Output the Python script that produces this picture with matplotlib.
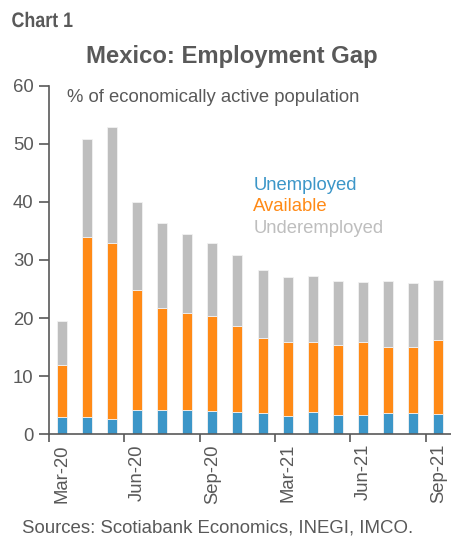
import matplotlib
matplotlib.use("Agg")
import matplotlib.pyplot as plt
import numpy as np
from matplotlib.textpath import TextPath
from matplotlib.patches import PathPatch
from matplotlib.font_manager import FontProperties
from matplotlib.transforms import Affine2D, IdentityTransform

plt.rcParams['font.family'] = ['Liberation Sans', 'DejaVu Sans']

# Stacked components, % of economically active population
tick_labels = ["Mar-20", "", "", "Jun-20", "", "", "Sep-20", "", "", "Mar-21",
               "", "", "Jun-21", "", "", "Sep-21"]
unemployed = [2.9, 3.0, 2.7, 4.2, 4.2, 4.2, 4.0, 3.8, 3.6, 3.2, 3.9, 3.3, 3.3, 3.7, 3.6, 3.5]
available = [9.0, 31.0, 30.2, 20.7, 17.6, 16.7, 16.4, 14.9, 13.0, 12.6, 11.9, 12.1, 12.5, 11.3, 11.4, 12.7]
underemployed = [7.6, 16.8, 20.0, 15.1, 14.5, 13.5, 12.5, 12.1, 11.7, 11.2, 11.5, 10.9, 10.4, 11.3, 11.1, 10.4]

c_unemp = "#3C96C8"
c_avail = "#FF8A16"
c_under = "#BEBEBE"
grey = "#595959"
fs = 13.3

fig = plt.figure(figsize=(4.51, 5.40), dpi=100)
ax = fig.add_axes([0.1086, 0.1957, 0.8914, 0.6458])

x = np.arange(len(tick_labels))
u = np.array(unemployed)
a = np.array(available)
w = 0.4
edge = dict(edgecolor="#F2F2F2", linewidth=0.6)
ax.bar(x, u, width=w, color=c_unemp, **edge)
ax.bar(x, a, width=w, bottom=u, color=c_avail, **edge)
ax.bar(x, underemployed, width=w, bottom=u + a, color=c_under, **edge)

ax.set_xlim(-0.5, len(x) - 0.5)
ax.set_ylim(0, 60)
ax.set_yticks(np.arange(0, 61, 10))
ax.tick_params(axis='y', direction='out', length=7, width=1.2, color=grey,
               labelsize=fs, labelcolor=grey, pad=4)

# category labels every third bar, boundary tick marks between groups
label_pos = [i for i, t in enumerate(tick_labels) if t]
ax.set_xticks(label_pos)
ax.set_xticklabels([tick_labels[i] for i in label_pos], rotation=90,
                   fontsize=fs, color=grey)
ax.tick_params(axis='x', length=0, pad=7)
ax.set_xticks([p - 0.5 for p in label_pos], minor=True)
ax.tick_params(axis='x', which='minor', direction='out', length=6, width=1.2, color=grey)

for s in ['top', 'right']:
    ax.spines[s].set_visible(False)
for s in ['left', 'bottom']:
    ax.spines[s].set_color(grey)
    ax.spines[s].set_linewidth(1.2)

ax.text(0.045, 0.99, "% of economically active population", transform=ax.transAxes,
        fontsize=fs, color=grey, va='top', ha='left')

ax.text(0.508, 0.714, "Unemployed", transform=ax.transAxes, fontsize=fs, color=c_unemp, va='center')
ax.text(0.508, 0.652, "Available", transform=ax.transAxes, fontsize=fs, color=c_avail, va='center')
ax.text(0.508, 0.590, "Underemployed", transform=ax.transAxes, fontsize=fs, color=c_under, va='center')

# condensed bold heading drawn as a horizontally squeezed text path
tp = TextPath((0, 0), "Chart 1", size=21,
              prop=FontProperties(family='Liberation Sans', weight='bold'))
heading = PathPatch(tp, facecolor=grey, edgecolor='none', lw=0,
                    transform=Affine2D().scale(0.85, 1.0).translate(11.5, 513) + IdentityTransform())
fig.add_artist(heading)

fig.text(0.515, 0.896, "Mexico: Employment Gap", fontsize=17.2, fontweight='bold',
         color=grey, va='center', ha='center')
fig.text(0.048, 0.022, "Sources: Scotiabank Economics, INEGI, IMCO.", fontsize=13.4,
         color=grey, va='center', ha='left')

fig.savefig("out.png", dpi=100)
